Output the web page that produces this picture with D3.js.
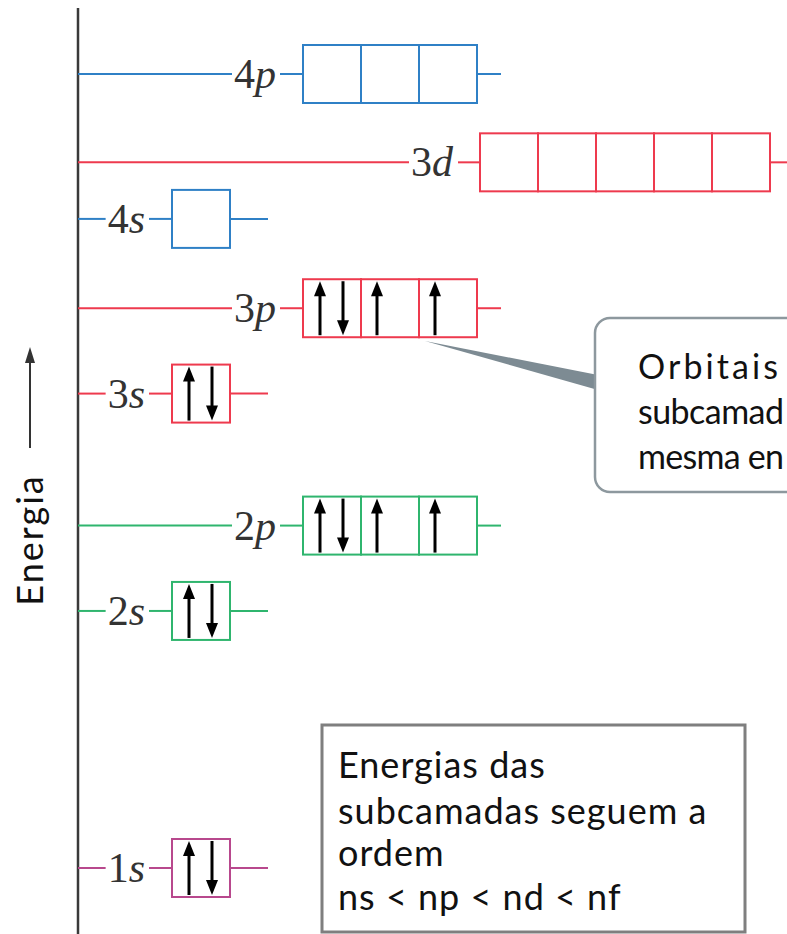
<!DOCTYPE html>
<html><head><meta charset="utf-8">
<script src="https://cdn.jsdelivr.net/npm/d3@7"></script>
<style>html,body{margin:0;padding:0;background:#fff;overflow:hidden}</style>
</head><body>
<svg id="c" width="787" height="934"></svg>
<script>
// ---- data ----
const levels    = ["1s","2s","2p","3s","3p","4s","3d","4p"];
const shellN    = [1, 2, 2, 3, 3, 4, 3, 4];
const subType   = ["s","s","p","s","p","s","d","p"];
const energies  = [1.0, 3.59, 4.45, 5.78, 6.64, 7.54, 8.11, 9.0];
const electrons = [[2],[2],[2,1,1],[2],[2,1,1],[0],[0,0,0,0,0],[0,0,0]];
const shells      = [1, 2, 3, 4];
const shellColors = ["#b8488d", "#2fb56e", "#ee3a4e", "#2f80c6"];
const types       = ["s", "p", "d"];
const axisLabel   = "Energia";
// visible part of the callout text (the box runs past the right edge)
const calloutLines = ["Orbitais", "subcamad", "mesma en"];
const calloutWidths = [140, 146, 146];
const noteLines    = ["Energias das", "subcamadas seguem a", "ordem", "ns < np < nd < nf"];

// ---- scales ----
const svg = d3.select("#c");
const y = d3.scaleLinear().domain([1, 9]).range([868, 74]);
const boxStart = d3.scaleOrdinal().domain(types).range([172, 303, 480]);
const tailLen  = d3.scaleOrdinal().domain(types).range([38, 24, 20]);
const color    = d3.scaleOrdinal().domain(shells).range(shellColors);
const cell = 58;
const cellX = (t, i) => d3.scaleLinear().domain([0, 1]).range([boxStart(t), boxStart(t) + cell])(i);
const axisX = 78;
const hand = "Lato, 'Open Sans', sans-serif";

// vertical axis
svg.append("line").attr("x1", axisX).attr("x2", axisX).attr("y1", 8).attr("y2", 934)
  .attr("stroke", "#3a3a3a").attr("stroke-width", 2.5);

// energy arrow + label
svg.append("line").attr("x1", 30).attr("x2", 30).attr("y1", 448).attr("y2", 360)
  .attr("stroke", "#333").attr("stroke-width", 2);
svg.append("path").attr("d", "M30,347 L25,363 L35,363 Z").attr("fill", "#333");
svg.append("text").attr("transform", "translate(43,540) rotate(-90)")
  .attr("text-anchor", "middle").attr("font-family", hand).attr("font-size", 36)
  .attr("letter-spacing", 2).attr("fill", "#111").text(axisLabel);

const data = levels.map((l, i) => ({
  name: l, n: shellN[i], t: subType[i], e: energies[i], el: electrons[i]
}));

const g = svg.selectAll("g.level").data(data).enter().append("g").attr("class", "level");

g.each(function(d) {
  const sel = d3.select(this);
  const yy = y(d.e);
  const c = color(d.n);
  const x0 = boxStart(d.t);
  const x1 = cellX(d.t, d.el.length);
  // label
  const lab = sel.append("text").attr("x", x0 - 27).attr("y", yy + 14)
    .attr("text-anchor", "end").attr("font-family", "'Liberation Serif', 'DejaVu Serif', serif")
    .attr("font-size", 42).attr("fill", "#333");
  lab.append("tspan").text(String(d.n));
  lab.append("tspan").attr("font-style", "italic").text(d.t);
  const bb = lab.node().getBBox();
  // lines
  sel.append("line").attr("x1", axisX).attr("x2", bb.x - 2).attr("y1", yy).attr("y2", yy)
    .attr("stroke", c).attr("stroke-width", 2);
  sel.append("line").attr("x1", bb.x + bb.width + 4).attr("x2", x0).attr("y1", yy).attr("y2", yy)
    .attr("stroke", c).attr("stroke-width", 2);
  sel.append("line").attr("x1", x1).attr("x2", x1 + tailLen(d.t)).attr("y1", yy).attr("y2", yy)
    .attr("stroke", c).attr("stroke-width", 2);
  // cells
  d.el.forEach((ne, i) => {
    const cx = cellX(d.t, i);
    sel.append("rect").attr("x", cx).attr("y", yy - cell / 2).attr("width", cell).attr("height", cell)
      .attr("fill", "none").attr("stroke", c).attr("stroke-width", 2);
    const arrows = ne === 2 ? [["up", 17], ["down", 40]] : ne === 1 ? [["up", 16]] : [];
    arrows.forEach(([dir, off]) => {
      const ax = cx + off;
      const top = yy - 27, bot = yy + 27;
      if (dir === "up") {
        sel.append("line").attr("x1", ax).attr("x2", ax).attr("y1", bot).attr("y2", top + 10)
          .attr("stroke", "#000").attr("stroke-width", 3);
        sel.append("path").attr("d", `M${ax},${top} L${ax - 6},${top + 15} L${ax + 6},${top + 15} Z`).attr("fill", "#000");
      } else {
        sel.append("line").attr("x1", ax).attr("x2", ax).attr("y1", top).attr("y2", bot - 10)
          .attr("stroke", "#000").attr("stroke-width", 3);
        sel.append("path").attr("d", `M${ax},${bot} L${ax - 6},${bot - 15} L${ax + 6},${bot - 15} Z`).attr("fill", "#000");
      }
    });
  });
});

// callout
svg.append("path").attr("d", "M425,341 L598,375 L598,390 Z").attr("fill", "#7d8b93");
svg.append("rect").attr("x", 595).attr("y", 318).attr("width", 260).attr("height", 174).attr("rx", 15)
  .attr("fill", "#fff").attr("stroke", "#8d989e").attr("stroke-width", 2.5);
svg.append("g").selectAll("text").data(calloutLines).enter().append("text")
  .attr("x", 638).attr("y", (d, i) => 379 + i * 45)
  .attr("font-family", hand).attr("font-size", 34)
  .attr("textLength", (d, i) => calloutWidths[i]).attr("lengthAdjust", "spacing")
  .attr("fill", "#111")
  .text(d => d);

// note box
svg.append("rect").attr("x", 322).attr("y", 725).attr("width", 423).attr("height", 207)
  .attr("fill", "#fff").attr("stroke", "#7f7f7f").attr("stroke-width", 3);
svg.append("g").selectAll("text").data(noteLines).enter().append("text")
  .attr("x", 338).attr("y", (d, i) => [778, 824, 866, 910][i])
  .attr("font-family", hand).attr("font-size", 36).attr("letter-spacing", 1).attr("fill", "#111")
  .text(d => d);
</script>
</body></html>
